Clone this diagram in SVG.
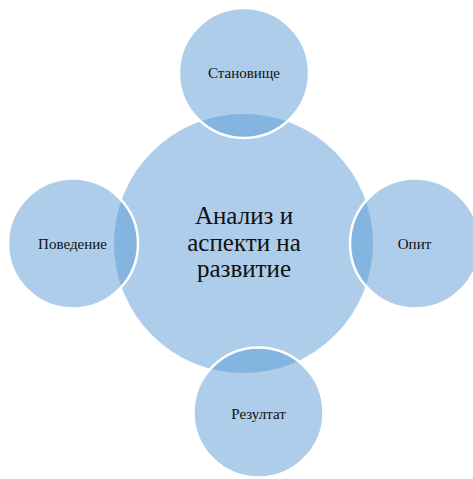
<svg xmlns="http://www.w3.org/2000/svg" width="473" height="479" viewBox="0 0 473 479">
<style>
.c{fill:#5B9BD5;fill-opacity:0.5}
.o{stroke:#FFFFFF;stroke-width:2.5}
.t{font-family:"Liberation Serif","DejaVu Serif",serif;fill:#111;text-anchor:middle}
.s{font-size:15px}
.b{font-size:25px}
</style>
<rect width="473" height="479" fill="#FFFFFF"/>
<g id="connectors"></g>
<g id="center">
<circle class="c" cx="243.5" cy="243.5" r="129.5"/>
<text class="t b" x="244" y="224">Анализ и</text>
<text class="t b" x="244" y="250.5">аспекти на</text>
<text class="t b" x="244" y="277">развитие</text>
</g>
<g id="top">
<circle class="c o" cx="244" cy="73" r="65"/>
<text class="t s" x="244" y="77.5">Становище</text>
</g>
<g id="right">
<circle class="c o" cx="415" cy="243.5" r="65"/>
<text class="t s" x="414.5" y="249">Опит</text>
</g>
<g id="bottom">
<circle class="c o" cx="258.5" cy="412.5" r="65"/>
<text class="t s" x="258.5" y="419">Резултат</text>
</g>
<g id="left">
<circle class="c o" cx="73" cy="243.5" r="65"/>
<text class="t s" x="72.5" y="249">Поведение</text>
</g>
</svg>
